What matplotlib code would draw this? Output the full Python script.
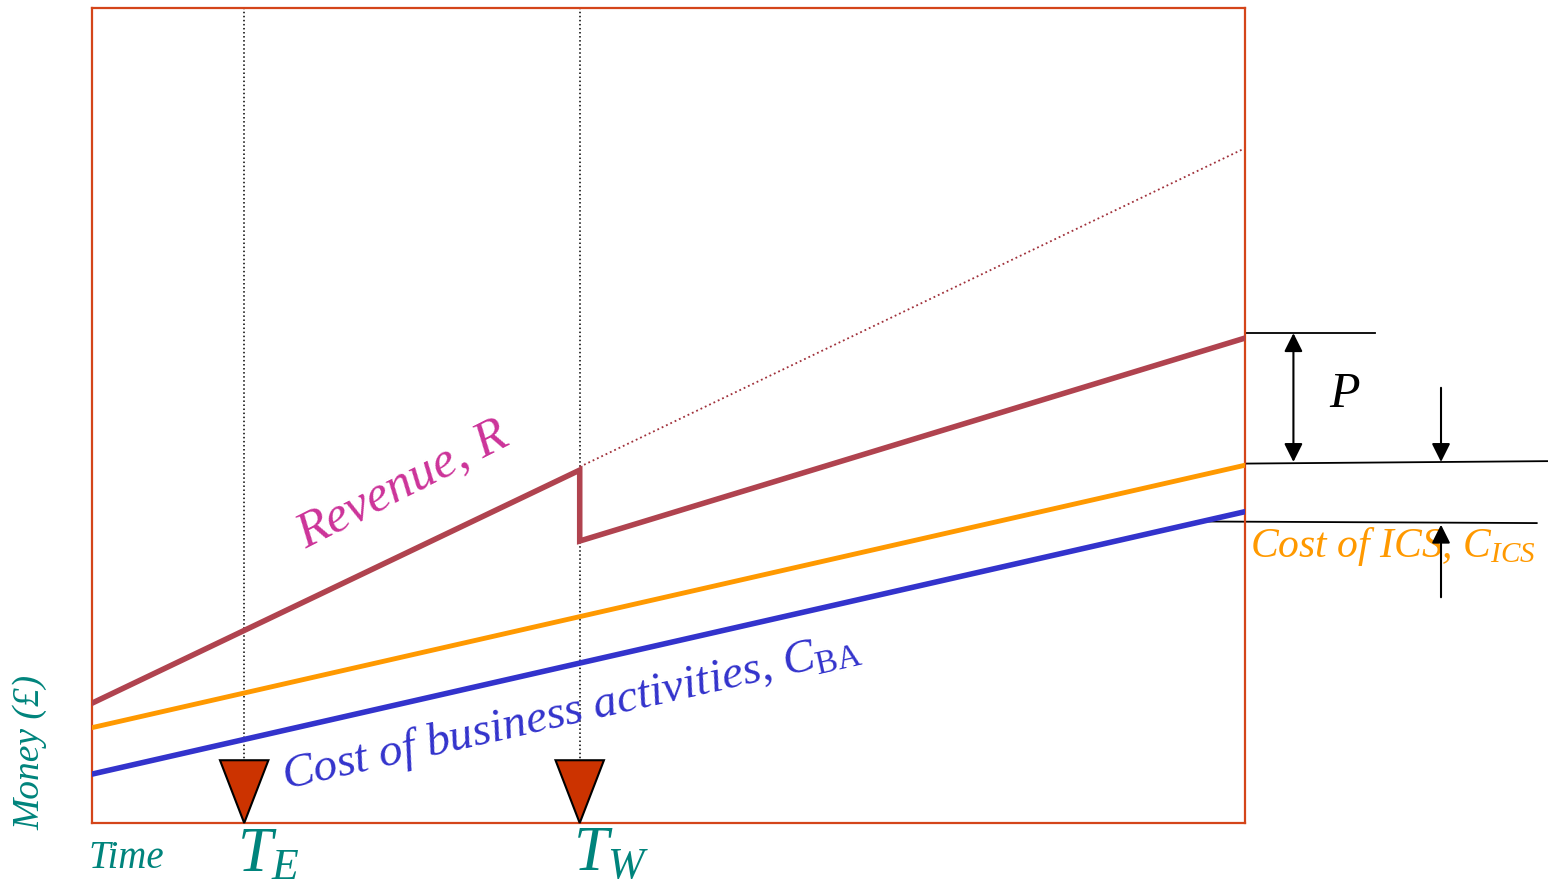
import matplotlib.pyplot as plt
import numpy as np

plt.rcParams['font.family'] = ['Liberation Serif', 'DejaVu Serif']
plt.rcParams['mathtext.fontset'] = 'custom'
plt.rcParams['mathtext.it'] = 'Liberation Serif:italic'
plt.rcParams['mathtext.rm'] = 'Liberation Serif'

# time runs 0..100 across the box, money 0..100 up the box
t_start, t_end = 0.0, 100.0
t_E = 13.2   # error introduced
t_W = 42.3   # warning / detection

revenue_t = [t_start, t_W, t_W, t_end]
revenue_m = [14.7, 43.3, 34.6, 59.5]
revenue_lost_t = [t_W, t_end]
revenue_lost_m = [43.7, 82.8]
ics_t = [t_start, t_end]
ics_m = [11.7, 43.9]
ba_t = [t_start, t_end]
ba_m = [6.0, 38.2]

# levels used by the profit / cost brackets on the right
profit_top = 60.1
profit_bottom = 44.3
ics_level = 36.9

fig = plt.figure(figsize=(15.53, 8.83), dpi=100)
ax = fig.add_axes([92 / 1553, 60 / 883, 1153 / 1553, 815 / 883])
ax.set_xlim(0, 100)
ax.set_ylim(0, 100)
ax.set_xticks([])
ax.set_yticks([])
box_col = '#D4451A'
for s in ax.spines.values():
    s.set_color(box_col)
    s.set_linewidth(1.6)

teal = '#00847C'

# event markers
for te in (t_E, t_W):
    ax.axvline(te, color='black', ls=':', lw=1.1, zorder=1)
    ax.fill([te - 2.1, te + 2.1, te], [7.7, 7.7, 0], facecolor='#CC3300',
            edgecolor='black', lw=1.5, zorder=4, clip_on=False)

ax.plot(revenue_lost_t, revenue_lost_m, color='#A0303A', ls=':', lw=1.3, zorder=2)
ax.plot(revenue_t, revenue_m, color='#B0434F', lw=4, solid_joinstyle='miter', zorder=3)
ax.plot(ics_t, ics_m, color='#FF9900', lw=3.5, zorder=3)
ax.plot(ba_t, ba_m, color='#3333CC', lw=4, zorder=3)

# series labels
ax.text(27.0, 41.4, 'Revenue, R', color='#CC3399', fontsize=37, style='italic',
        rotation=27, ha='center', va='center', rotation_mode='anchor')
ax.text(41.6, 13.6, 'Cost of business activities, $C_{\\mathrm{BA}}$', color='#3333CC',
        fontsize=34, style='italic', rotation=12.8, ha='center', va='center',
        rotation_mode='anchor')
ax.text(100.4, 33.9, 'Cost of ICS, $C_{ICS}$', color='#FF9900', fontsize=30,
        style='italic', ha='left', va='center', clip_on=False)

# profit bracket
ax.plot([t_end, 111.3], [profit_top, profit_top], color='black', lw=1.3, clip_on=False)
ax.plot([t_end, 126.2], [profit_bottom - 0.2, profit_bottom + 0.1], color='black', lw=1.3,
        clip_on=False)
ax.plot([95.8, 125.3], [ics_level + 0.1, ics_level - 0.1], color='black', lw=1.3,
        clip_on=False)
ax.annotate('', xy=(104.2, profit_top), xytext=(104.2, profit_bottom),
            arrowprops=dict(arrowstyle='<|-|>', color='black', lw=1.5,
                            mutation_scale=28, shrinkA=0, shrinkB=0),
            annotation_clip=False)
ax.text(108.6, 52.5, 'P', fontsize=36, style='italic', ha='center', va='center')
ax.annotate('', xy=(117.0, profit_bottom), xytext=(117.0, 53.4),
            arrowprops=dict(arrowstyle='-|>', color='black', lw=1.5,
                            mutation_scale=28, shrinkA=0, shrinkB=0),
            annotation_clip=False)
ax.annotate('', xy=(117.0, ics_level - 0.3), xytext=(117.0, 27.7),
            arrowprops=dict(arrowstyle='-|>', color='black', lw=1.5,
                            mutation_scale=28, shrinkA=0, shrinkB=0),
            annotation_clip=False)

# axis captions
fig.text(30 / 1553, 1 - 752 / 883, 'Money (£)', color=teal, fontsize=27, style='italic',
         rotation=90, ha='center', va='center')
fig.text(88 / 1553, 1 - 859 / 883, 'Time', color=teal, fontsize=28, style='italic',
         ha='left', va='center')
ax.text(t_E - 0.6, -4.1, '$T_E$', color=teal, fontsize=45, ha='left', va='center',
        clip_on=False)
ax.text(t_W - 0.6, -4.1, '$T_W$', color=teal, fontsize=45, ha='left', va='center',
        clip_on=False)

fig.savefig('out.png', dpi=100)
